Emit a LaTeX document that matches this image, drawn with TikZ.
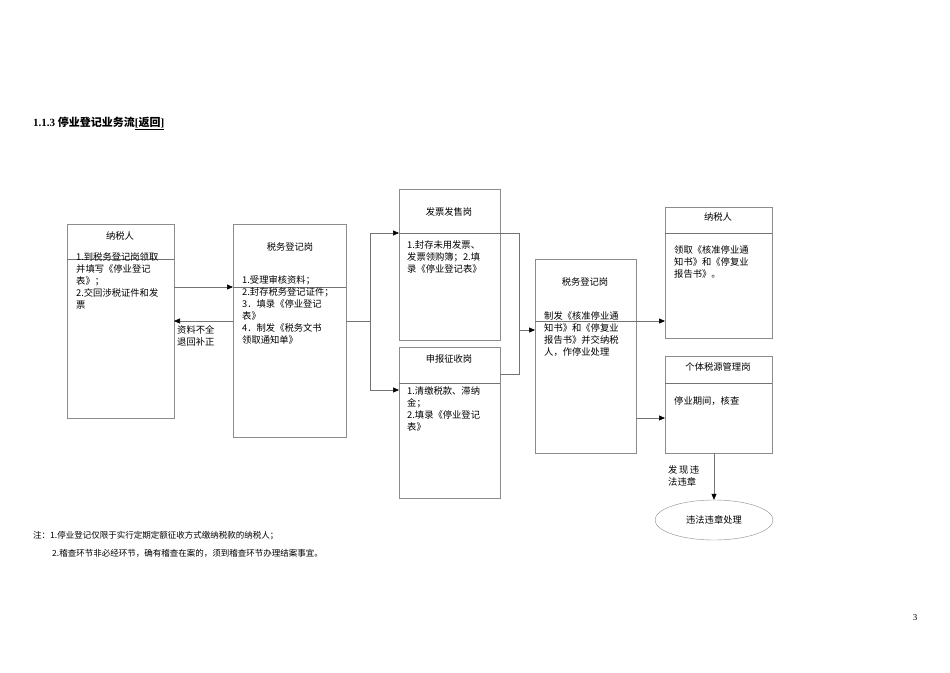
\documentclass[tikz,border=0pt]{standalone}
\usepackage{fontspec}
\setmainfont{Liberation Serif}
\newfontfamily\cjk{Noto Sans CJK SC}
\usetikzlibrary{arrows.meta,shapes.geometric}
\begin{document}
\begin{tikzpicture}[x=1pt,y=-1pt,
  box/.style={draw=black!45,line width=0.6pt},
  lin/.style={draw=black!55,line width=0.6pt},
  arr/.style={lin,-{Triangle[length=6pt,width=5pt,black]}},
  txt/.style={font=\cjk\fontsize{9.3}{12}\selectfont,anchor=north west,align=left,inner sep=0pt},
  ttl/.style={font=\cjk\fontsize{9.3}{12}\selectfont,inner sep=0pt}]
\useasboundingbox (0,0) rectangle (950,672);
\fill[white] (0,0) rectangle (950,672);
\node[anchor=west,inner sep=0pt,font=\bfseries\fontsize{11}{13}\selectfont] (title) at (33,123) {1.1.3 {\cjk\bfseries 停业登记业务流}\underline{[{\cjk\bfseries 返回}]}};
% boxes
\draw[box] (67,224) rectangle (174,418);
\draw[lin] (67,259) -- (174,259);
\node[ttl] (at) at (120,236) {纳税人};
\node[txt] (ab) at (76,252) {1.到税务登记岗领取\\并填写《停业登记\\表》；\\2.交回涉税证件和发\\票};
\draw[box] (233,224) rectangle (346,437);
\draw[lin] (233,287) -- (346,287);
\node[ttl] (bt) at (290,247) {税务登记岗};
\node[txt] (bb) at (242,275) {1.受理审核资料；\\2.封存税务登记证件；\\3．填录《停业登记\\表》\\4．制发《税务文书\\领取通知单》};
\draw[box] (399,189) rectangle (500,340);
\node[ttl] (ct) at (449,212) {发票发售岗};
\node[txt] (cb) at (407,240) {1.封存未用发票、\\发票领购簿；2.填\\录《停业登记表》};
\draw[box] (399,347) rectangle (500,498);
\draw[lin] (399,383) -- (500,383);
\node[ttl] (dt) at (449,359) {申报征收岗};
\node[txt] (db) at (407,386) {1.清缴税款、滞纳\\金；\\2.填录《停业登记\\表》};
\draw[box] (535,259) rectangle (636,453);
\node[ttl] (et) at (585,282) {税务登记岗};
\node[txt] (eb) at (544,311) {制发《核准停业通\\知书》和《停复业\\报告书》并交纳税\\人，作停业处理};
\draw[box] (665,207) rectangle (772,338);
\draw[lin] (665,233) -- (772,233);
\node[ttl] (ft) at (718,217) {纳税人};
\node[txt] (fb) at (674,245) {领取《核准停业通\\知书》和《停复业\\报告书》。};
\draw[box] (665,356) rectangle (772,453);
\draw[lin] (665,383) -- (772,383);
\node[ttl] (gt) at (718,367) {个体税源管理岗};
\node[txt] (gb) at (674,396) {停业期间，核查};
\node[ellipse,draw=black!45,minimum width=118pt,minimum height=40pt,inner sep=0pt,font=\cjk\fontsize{9.3}{12}\selectfont] (h) at (714,520) {违法违章处理};
% connectors
\draw[arr] (174,287) -- (233,287);
\draw[arr] (233,321) -- (174,321);
\node[txt] (l1) at (177,325) {资料不全\\退回补正};
\draw[lin] (346,321) -- (370,321);
\draw[arr] (370,233) -- (399,233);
\draw[arr] (370,390) -- (399,390);
\draw[lin] (370,233) -- (370,390);
\draw[lin] (399,233) -- (519,233) -- (519,374) -- (500,374);
\draw[arr] (519,330) -- (535,330);
\draw[lin] (535,321) -- (636,321);
\draw[arr] (636,321) -- (665,321);
\draw[arr] (636,418) -- (665,418);
\draw[arr] (714,453) -- (h.north);
\node[txt] (l2) at (668,465) {发\,现\,违\\法违章};
\node[anchor=west,inner sep=0pt,font=\cjk\fontsize{8.5}{10}\selectfont] (n1) at (33,536) {注：1.停业登记仅限于实行定期定额征收方式缴纳税款的纳税人；};
\node[anchor=west,inner sep=0pt,font=\cjk\fontsize{8.5}{10}\selectfont] (n2) at (52,553) {2.稽查环节非必经环节，确有稽查在案的，须到稽查环节办理结案事宜。};
\node[inner sep=0pt,font=\fontsize{9}{10}\selectfont] (pg) at (915,618) {3};
\end{tikzpicture}
\end{document}
